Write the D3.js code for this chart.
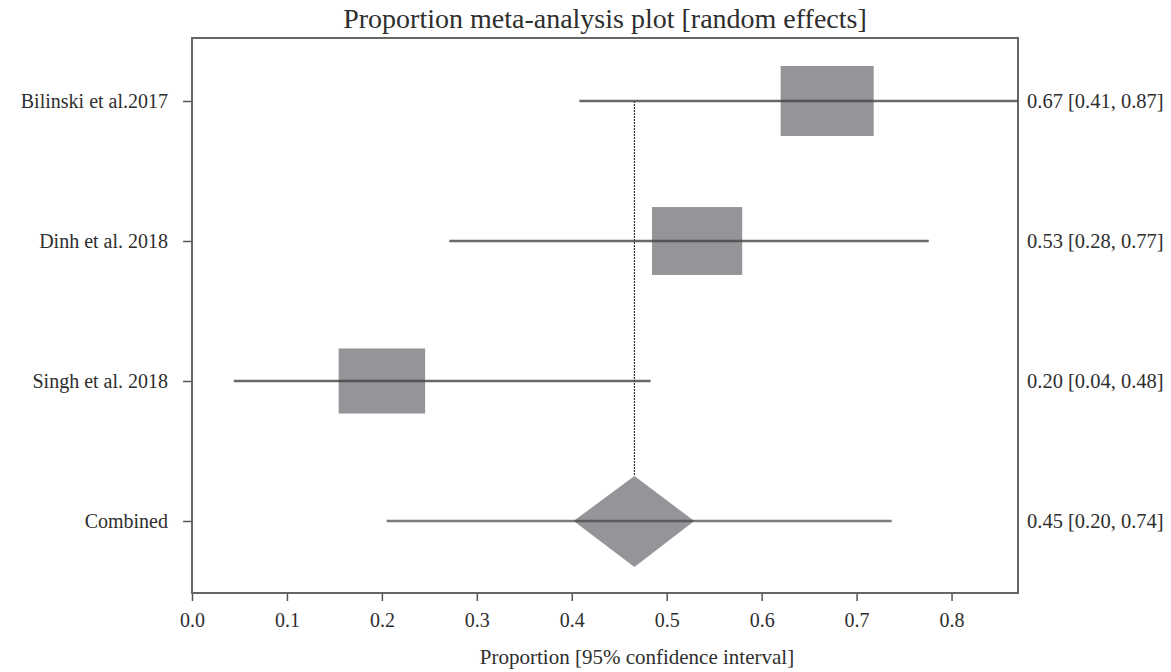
<!DOCTYPE html>
<html>
<head>
  <meta charset="utf-8">
  <title>Proportion meta-analysis plot</title>
  <script src="https://d3js.org/d3.v7.min.js"></script>
  <style>
    body { margin: 0; background: #fff; }
    svg text { font-family: "Liberation Serif", "Times New Roman", serif; fill: #2e2e2e; }
  </style>
</head>
<body>
  <div id="chart"></div>
  <script>
    // study rows
    const studies = ["Bilinski et al.2017", "Dinh et al. 2018", "Singh et al. 2018"];
    const estimates = [0.669, 0.532, 0.200];
    const lower = [0.408, 0.271, 0.044];
    const upper = [0.870, 0.776, 0.483];
    const weights = [1.0, 0.97, 0.93];
    const studyText = ["0.67 [0.41, 0.87]", "0.53 [0.28, 0.77]", "0.20 [0.04, 0.48]"];

    // pooled estimate
    const pooledLabel = "Combined";
    const pooledEst = 0.466;
    const pooledDiamond = [0.402, 0.529];
    const pooledCI = [0.205, 0.737];
    const pooledText = "0.45 [0.20, 0.74]";

    const xTicks = [0, 0.1, 0.2, 0.3, 0.4, 0.5, 0.6, 0.7, 0.8];

    const width = 1171, height = 672;
    const margin = { top: 38, right: 153, bottom: 79, left: 192 };
    const innerW = width - margin.left - margin.right;
    const innerH = height - margin.top - margin.bottom;

    const svg = d3.select("#chart").append("svg")
      .attr("width", width)
      .attr("height", height);

    const g = svg.append("g")
      .attr("transform", `translate(${margin.left},${margin.top})`);

    const x = d3.scaleLinear().domain([0, 0.87]).range([0, innerW]);
    const rows = studies.concat([pooledLabel]);
    const y = d3.scalePoint().domain(rows).range([63, 483]);

    const boxW = d3.scaleLinear().domain([0, 1]).range([0, 93]);
    const boxH = d3.scaleLinear().domain([0, 1]).range([0, 70]);

    // title
    svg.append("text")
      .attr("x", margin.left + innerW / 2)
      .attr("y", 28)
      .attr("text-anchor", "middle")
      .style("font-size", "28px")
      .text("Proportion meta-analysis plot [random effects]");

    // x axis
    const xAxis = g.append("g")
      .attr("transform", `translate(0,${innerH})`)
      .call(d3.axisBottom(x).tickValues(xTicks).tickFormat(d3.format(".1f")).tickSize(8).tickPadding(12).tickSizeOuter(0));
    xAxis.select(".domain").remove();
    xAxis.selectAll("line").attr("stroke", "#555").attr("stroke-width", 1.5);
    xAxis.selectAll("text").style("font-size", "20px").style("font-family", "Liberation Serif, serif").attr("fill", "#2e2e2e");

    // y axis (row labels)
    const yAxis = g.append("g")
      .call(d3.axisLeft(y).tickSize(9).tickPadding(15).tickSizeOuter(0));
    yAxis.select(".domain").remove();
    yAxis.selectAll("line").attr("stroke", "#555").attr("stroke-width", 1.5);
    yAxis.selectAll("text").style("font-size", "20px").style("font-family", "Liberation Serif, serif").attr("fill", "#2e2e2e");

    // frame
    g.append("rect")
      .attr("width", innerW)
      .attr("height", innerH)
      .attr("fill", "none")
      .attr("stroke", "#666")
      .attr("stroke-width", 2);

    // reference dotted line at the pooled estimate
    g.append("line")
      .attr("x1", x(pooledEst)).attr("x2", x(pooledEst))
      .attr("y1", y(studies[0])).attr("y2", y(pooledLabel) - 45)
      .attr("stroke", "#333")
      .attr("stroke-width", 1.2)
      .attr("stroke-dasharray", "2,1");

    // boxes
    g.selectAll(".box").data(studies).enter().append("rect")
      .attr("class", "box")
      .attr("x", (d, i) => x(estimates[i]) - boxW(weights[i]) / 2)
      .attr("y", (d, i) => y(d) - boxH(weights[i]) / 2)
      .attr("width", (d, i) => boxW(weights[i]))
      .attr("height", (d, i) => boxH(weights[i]))
      .attr("fill", "#939598");

    // confidence intervals
    g.selectAll(".ci").data(studies).enter().append("line")
      .attr("class", "ci")
      .attr("x1", (d, i) => x(lower[i]))
      .attr("x2", (d, i) => x(upper[i]))
      .attr("y1", d => y(d)).attr("y2", d => y(d))
      .attr("stroke", "#444")
      .attr("stroke-opacity", 0.8)
      .attr("stroke-width", 2.5);

    // pooled diamond
    const py = y(pooledLabel);
    g.append("path")
      .attr("d", d3.line()([
        [x(pooledDiamond[0]), py],
        [x(pooledEst), py - 45],
        [x(pooledDiamond[1]), py],
        [x(pooledEst), py + 46]
      ]) + "Z")
      .attr("fill", "#939598");

    g.append("line")
      .attr("x1", x(pooledCI[0])).attr("x2", x(pooledCI[1]))
      .attr("y1", py).attr("y2", py)
      .attr("stroke", "#444")
      .attr("stroke-opacity", 0.7)
      .attr("stroke-width", 2.5);

    // right-hand estimate labels
    g.selectAll(".est").data(studyText.concat([pooledText])).enter().append("text")
      .attr("class", "est")
      .attr("x", innerW + 9)
      .attr("y", (d, i) => y(rows[i]))
      .attr("dy", "0.35em")
      .style("font-size", "20.5px")
      .text(d => d);

    // x axis title (sits right of the frame centre in the original)
    svg.append("text")
      .attr("x", 637)
      .attr("y", 664)
      .attr("text-anchor", "middle")
      .style("font-size", "21px")
      .text("Proportion [95% confidence interval]");
  </script>
</body>
</html>
